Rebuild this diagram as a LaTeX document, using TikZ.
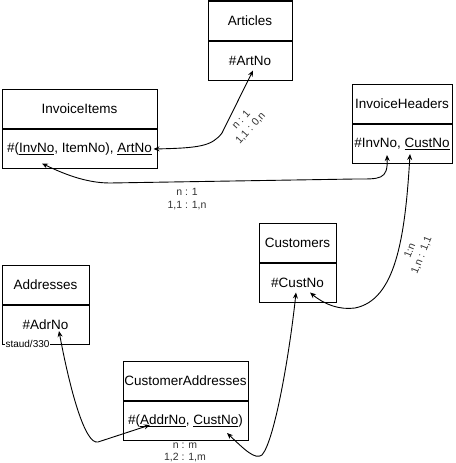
\documentclass[tikz,border=0pt]{standalone}
\usepackage{fontspec}
\setmainfont{Liberation Sans}
\usetikzlibrary{arrows.meta,positioning}

\begin{document}
\begin{tikzpicture}[
  x=1pt,y=-1pt,
  every node/.style={font=\fontsize{13.5}{16}\selectfont},
  enthead/.style={draw,line width=1pt,minimum height=39pt,inner sep=1pt},
  entkey/.style={draw,line width=1pt,minimum height=39pt,inner sep=1pt},
  card/.style={font=\fontsize{10.5}{11.5}\selectfont,align=center,text=black!80,inner sep=1pt},
  rel/.style={{Stealth[length=6pt,width=5pt]}-{Stealth[length=6pt,width=5pt]},line width=0.9pt},
]
  \useasboundingbox (0,0) rectangle (455,463);

  % Entities
  \node[enthead,minimum width=84pt] (art) at (250,20.5) {Articles};
  \node[entkey,minimum width=84pt,below=0pt of art] (artk) {\#ArtNo};

  \node[enthead,minimum width=155pt] (ii) at (79.5,109) {InvoiceItems};
  \node[entkey,minimum width=155pt,below=0pt of ii] (iik)
    {\#(\underline{InvNo}, ItemNo), \underline{ArtNo}};

  \node[enthead,minimum width=100pt] (ih) at (402,104) {InvoiceHeaders};
  \node[entkey,minimum width=100pt,below=0pt of ih] (ihk) {\#InvNo, \underline{CustNo}};

  \node[enthead,minimum width=77pt] (cu) at (297.5,243) {Customers};
  \node[entkey,minimum width=77pt,below=0pt of cu] (cuk) {\#CustNo};

  \node[enthead,minimum width=87pt] (ad) at (45.5,284.5) {Addresses};
  \node[entkey,minimum width=87pt,below=0pt of ad] (adk) {\#AdrNo};
  \node[font=\fontsize{10}{12}\selectfont,fill=white,inner sep=1pt] (stamp) at (27.5,344) {staud/330};

  \node[enthead,minimum width=125pt] (ca) at (185.5,381) {CustomerAddresses};
  \node[entkey,minimum width=125pt,below=0pt of ca] (cak)
    {\#(\underline{AddrNo}, \underline{CustNo})};

  % Relationships
  \draw[rel] ([xshift=-4pt]iik.east) .. controls (200,148) and (212,146) .. (222,133)
    -- ([shift={(3,10)}]artk.center);
  \node[card,rotate=48] (c1) at (246,124) {n : 1\\[1pt]1,1 : 0,n};

  \draw[rel] ([shift={(-15,11)}]ihk.center) .. controls (388,180) and (380,179) .. (355,179)
    -- (110,183) .. controls (85,183) and (62,173) .. ([shift={(-37.5,14.5)}]iik.center);
  \node[card] (c2) at (187,199) {n : 1\\[2pt]1,1 : 1,n};

  \draw[rel] ([shift={(8,10)}]ihk.center) .. controls (405,240) and (395,300) .. (355,308)
    .. controls (340,310) and (325,305) .. ([shift={(12.5,9.5)}]cuk.center);
  \node[card,rotate=68] (c3) at (416,253) {1:n\\[1pt]1,n : 1,1};

  \draw[rel] ([shift={(-1.5,9.5)}]cuk.center) .. controls (290,350) and (275,440) .. (262,455)
    .. controls (255,460) and (245,450) .. ([shift={(41.5,12)}]cak.center);
  \node[card] (c4) at (185,452.5) {n : m\\1,2 : 1,m};

  \draw[rel] ([shift={(13.5,6.5)}]adk.center) .. controls (70,390) and (85,445) .. (98,442)
    -- ([shift={(-35.5,4)}]cak.center);
\end{tikzpicture}
\end{document}
